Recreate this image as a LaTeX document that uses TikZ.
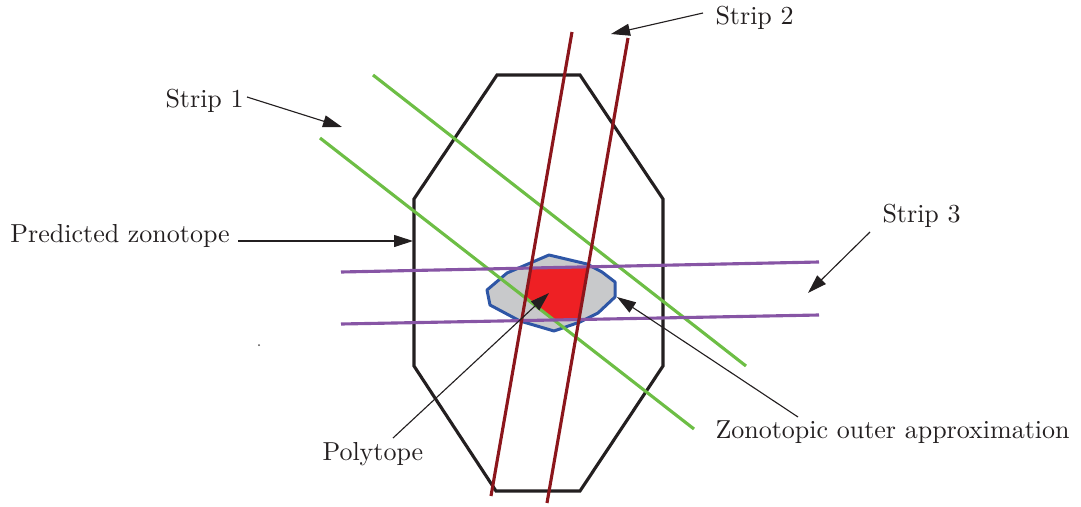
\documentclass[tikz,border=0pt]{standalone}
\usetikzlibrary{arrows.meta}
\definecolor{octc}{RGB}{35,31,32}
\definecolor{grn}{RGB}{109,190,69}
\definecolor{rdl}{RGB}{140,22,28}
\definecolor{prp}{RGB}{135,85,165}
\definecolor{gryf}{RGB}{200,201,203}
\definecolor{blu}{RGB}{46,86,166}
\definecolor{rdf}{RGB}{238,32,36}
\begin{document}
\begin{tikzpicture}[x=0.4pt,y=-0.4pt,
  lbl/.style={inner sep=0pt,anchor=base west,font=\fontsize{10.4}{12.5}\selectfont,text=octc},
  thick line/.style={line width=1.25pt},
  pointer/.style={line width=0.45pt,octc,-{Triangle[length=7.6pt,width=4.8pt]}}]
\useasboundingbox (0,0) rectangle (1081,507);
% octagon (predicted zonotope)
\coordinate (o1) at (497,75);
\coordinate (o2) at (580,75);
\coordinate (o3) at (663,199);
\coordinate (o4) at (663,366);
\coordinate (o5) at (580,491);
\coordinate (o6) at (496,491);
\coordinate (o7) at (414,366);
\coordinate (o8) at (414,199);
\draw[thick line,octc,line join=miter] (o1)--(o2)--(o3)--(o4)--(o5)--(o6)--(o7)--(o8)--cycle;
% zonotopic outer approximation
\def\zono{(487,290)--(490,305)--(520,321)--(554,331)--(580,322)--(598,313)--(615,297)--(615,282)--(602,272)--(587,264)--(549,255)--(507,273)--cycle}
\fill[gryf] \zono;
% polytope = intersection of strips
\begin{scope}
\clip (572,32)--(628,38)--(547,503)--(491,496)--cycle;
\clip (341,272)--(819,262)--(819,315)--(341,324)--cycle;
\clip (320,138)--(694,429)--(746,366)--(373,75)--cycle;
\clip \zono;
\fill[rdf] (400,200) rectangle (700,400);
\end{scope}
\draw[line width=1.2pt,blu,line join=round] \zono;
% strips
\coordinate (ga1) at (373,75);  \coordinate (ga2) at (746,366);
\coordinate (gb1) at (320,138); \coordinate (gb2) at (694,429);
\coordinate (pa1) at (341,272); \coordinate (pa2) at (819,262);
\coordinate (pb1) at (341,324); \coordinate (pb2) at (819,315);
\coordinate (ra1) at (572,32);  \coordinate (ra2) at (491,496);
\coordinate (rb1) at (628,38);  \coordinate (rb2) at (547,503);
\draw[thick line,grn] (ga1)--(ga2);
\draw[thick line,grn] (gb1)--(gb2);
\draw[thick line,prp] (pa1)--(pa2);
\draw[thick line,prp] (pb1)--(pb2);
\draw[thick line,rdl] (ra1)--(ra2);
\draw[thick line,rdl] (rb1)--(rb2);
% labels
\node[lbl] (s1) at (165,107) {Strip 1};
\node[lbl] (s2) at (715,24) {Strip 2};
\node[lbl] (s3) at (882,222) {Strip 3};
\node[lbl] (pz) at (10,242) {Predicted zonotope};
\node[lbl] (pt) at (322,460) {Polytope};
\node[lbl] (za) at (715,438) {Zonotopic outer approximation};
% arrow ends
\coordinate (s1a) at (247,97);  \coordinate (s1b) at (342,127);
\coordinate (s2a) at (703,13);  \coordinate (s2b) at (611,34);
\coordinate (s3a) at (870,232); \coordinate (s3b) at (808,293);
\coordinate (pza) at (238,241); \coordinate (pzb) at (413,241);
\coordinate (pta) at (393,438); \coordinate (ptb) at (549,293);
\coordinate (zaa) at (798,417); \coordinate (zab) at (617,297);
\draw[pointer] (s1a)--(s1b);
\draw[pointer] (s2a)--(s2b);
\draw[pointer] (s3a)--(s3b);
\draw[pointer] (pza)--(pzb);
\draw[pointer] (pta)--(ptb);
\draw[pointer] (zaa)--(zab);
% stray dot
\fill[octc!80] (259,345) circle (1);
\end{tikzpicture}
\end{document}
